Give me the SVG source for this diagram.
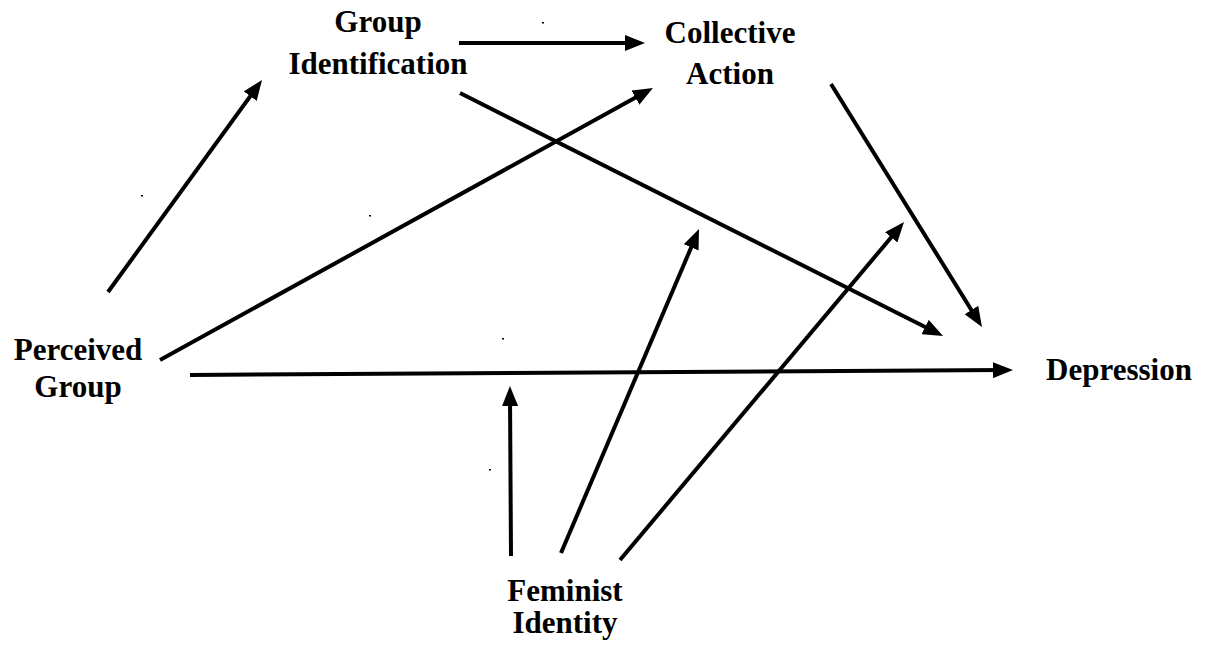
<svg xmlns="http://www.w3.org/2000/svg" width="1212" height="651" viewBox="0 0 1212 651">
<style>
.lbl{font-family:"Liberation Serif","Times New Roman",serif;font-weight:bold;font-size:31px;fill:#000;text-anchor:middle}
.edge{stroke:#000;stroke-width:4;fill:none;marker-end:url(#ah)}
.dot{fill:#000}
</style>
<defs>
<marker id="ah" markerUnits="userSpaceOnUse" markerWidth="20" markerHeight="16" refX="10" refY="8" orient="auto">
<path d="M0,0 L20,8 L0,16 z" fill="#000"/>
</marker>
</defs>
<rect width="1212" height="651" fill="#fff"/>
<g id="connectors">
<line class="edge" x1="108" y1="292" x2="256.1" y2="88.1"/>
<line class="edge" x1="459" y1="43" x2="635" y2="43"/>
<line class="edge" x1="160" y1="360" x2="644.2" y2="92.8"/>
<line class="edge" x1="460" y1="93" x2="934.1" y2="331.5"/>
<line class="edge" x1="831" y1="84" x2="976.7" y2="318.5"/>
<line class="edge" x1="190" y1="375" x2="1003" y2="370.1"/>
<line class="edge" x1="511" y1="556" x2="510" y2="396"/>
<line class="edge" x1="561" y1="553" x2="695.1" y2="238.2"/>
<line class="edge" x1="620" y1="560" x2="897.6" y2="229.7"/>
</g>
<g id="marks">
<rect class="dot" x="542" y="22" width="2" height="1.5"/>
<rect class="dot" x="141" y="195" width="2" height="1.5"/>
<rect class="dot" x="369" y="215" width="2" height="1.5"/>
<rect class="dot" x="502" y="338" width="2" height="1.5"/>
<rect class="dot" x="489" y="469" width="2" height="1.5"/>
</g>
<g id="group-identification">
<text class="lbl" x="378" y="32">Group</text>
<text class="lbl" x="378" y="74">Identification</text>
</g>
<g id="collective-action">
<text class="lbl" x="730" y="43">Collective</text>
<text class="lbl" x="730" y="84">Action</text>
</g>
<g id="perceived-group">
<text class="lbl" x="78" y="360">Perceived</text>
<text class="lbl" x="78" y="397">Group</text>
</g>
<g id="depression">
<text class="lbl" x="1119" y="380">Depression</text>
</g>
<g id="feminist-identity">
<text class="lbl" x="565" y="601">Feminist</text>
<text class="lbl" x="565" y="633">Identity</text>
</g>
</svg>
